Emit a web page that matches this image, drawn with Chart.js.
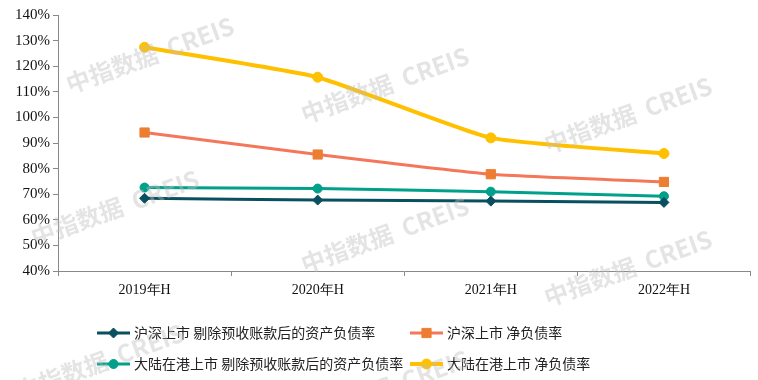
<!DOCTYPE html>
<html lang="zh">
<head>
    <meta charset="UTF-8">
    <title>负债率</title>
    <script src="https://cdn.jsdelivr.net/npm/chart.js"></script>
    <style>
        html, body { margin: 0; padding: 0; background: #fff; }
        #wrap { width: 758px; height: 380px; position: relative; }
    </style>
</head>
<body>
    <div id="wrap"><canvas id="chart"></canvas></div>
    <script>
    // 数据
    const categories = ['2019年H', '2020年H', '2021年H', '2022年H'];
    const szAdjusted = [68.4, 67.7, 67.3, 66.8];   // 沪深上市 剔除预收账款后的资产负债率
    const szNetDebt = [94.1, 85.5, 77.8, 74.8];    // 沪深上市 净负债率
    const hkAdjusted = [72.6, 72.2, 71.0, 69.2];   // 大陆在港上市 剔除预收账款后的资产负债率
    const hkNetDebt = [127.4, 115.7, 92.0, 85.9];  // 大陆在港上市 净负债率
    const seriesNames = [
        '沪深上市 剔除预收账款后的资产负债率',
        '沪深上市 净负债率',
        '大陆在港上市 剔除预收账款后的资产负债率',
        '大陆在港上市 净负债率'
    ];

    const serif = '"Liberation Serif", "DejaVu Serif", serif';
    const cjk = '"Noto Sans CJK SC", "Noto Sans", sans-serif';

    // 图例位置（两列两行）
    const legendSlots = [
        { x: 97, y: 333 }, { x: 410, y: 333 },
        { x: 97, y: 364 }, { x: 410, y: 364 }
    ];

    const legendPlugin = {
        id: 'boxLegend',
        afterDraw(chart) {
            const ctx = chart.ctx;
            chart.data.datasets.forEach((ds, i) => {
                const s = legendSlots[i];
                ctx.save();
                ctx.strokeStyle = ds.borderColor;
                ctx.lineWidth = ds.borderWidth;
                ctx.beginPath();
                ctx.moveTo(s.x, s.y);
                ctx.lineTo(s.x + 33, s.y);
                ctx.stroke();
                ctx.fillStyle = ds.pointBackgroundColor;
                ctx.strokeStyle = ds.pointBorderColor;
                ctx.lineWidth = 1;
                Chart.helpers.drawPoint(ctx, {
                    pointStyle: ds.pointStyle,
                    radius: ds.pointRadius,
                    rotation: 0,
                    borderWidth: 1
                }, s.x + 16.5, s.y);
                ctx.fillStyle = '#222';
                ctx.font = '14px ' + cjk;
                ctx.textBaseline = 'middle';
                ctx.fillText(seriesNames[i], s.x + 37, s.y);
                ctx.restore();
            });
        }
    };

    const watermarkPlugin = {
        id: 'watermark',
        afterDraw(chart) {
            const ctx = chart.ctx;
            const spots = [[150, 55], [385, 85], [628, 115], [115, 208], [385, 235], [628, 268], [100, 362], [385, 388]];
            ctx.save();
            ctx.font = 'bold 24px ' + cjk;
            ctx.fillStyle = 'rgba(190,190,190,0.42)';
            ctx.textAlign = 'center';
            ctx.textBaseline = 'middle';
            spots.forEach(([x, y]) => {
                ctx.save();
                ctx.translate(x, y);
                ctx.rotate(-20 * Math.PI / 180);
                ctx.fillText('中指数据  CREIS', 0, 0);
                ctx.restore();
            });
            ctx.restore();
        }
    };

    function series(data, color, pointColor, style, radius, width) {
        return {
            data: data,
            borderColor: color,
            backgroundColor: pointColor,
            pointBackgroundColor: pointColor,
            pointBorderColor: pointColor,
            pointStyle: style,
            pointRadius: radius,
            pointBorderWidth: 1,
            borderWidth: width,
            tension: 0.15,
            fill: false
        };
    }

    const ds = [
        series(szAdjusted, '#0a4f5f', '#0a4f5f', 'rectRot', 5, 3),
        series(szNetDebt, '#f4775a', '#ed7d31', 'rect', 6.5, 3),
        series(hkAdjusted, '#00a08a', '#00a08a', 'circle', 4.5, 3),
        series(hkNetDebt, '#ffc000', '#ffc000', 'circle', 5, 4)
    ];

    new Chart(document.getElementById('chart'), {
        type: 'line',
        data: { labels: categories, datasets: ds },
        options: {
            responsive: true,
            maintainAspectRatio: false,
            animation: false,
            layout: { padding: { top: 15, right: 4, left: 0, bottom: 0 } },
            plugins: {
                legend: { display: false },
                tooltip: { enabled: false }
            },
            scales: {
                x: {
                    offset: true,
                    afterFit: s => { s.height = 109; },
                    grid: { display: true, drawOnChartArea: false, offset: true, tickLength: 5, color: '#888' },
                    border: { color: '#888', width: 1 },
                    ticks: { color: '#111', padding: 6, font: { family: serif, size: 14 } }
                },
                y: {
                    min: 40,
                    max: 140,
                    afterFit: s => { s.width = 58; },
                    grid: { display: true, drawOnChartArea: false, tickLength: 5, color: '#888' },
                    border: { color: '#888', width: 1 },
                    ticks: {
                        stepSize: 10,
                        color: '#111',
                        padding: 3,
                        font: { family: serif, size: 15 },
                        callback: v => v + '%'
                    }
                }
            }
        },
        plugins: [legendPlugin, watermarkPlugin]
    });
    </script>
</body>
</html>
